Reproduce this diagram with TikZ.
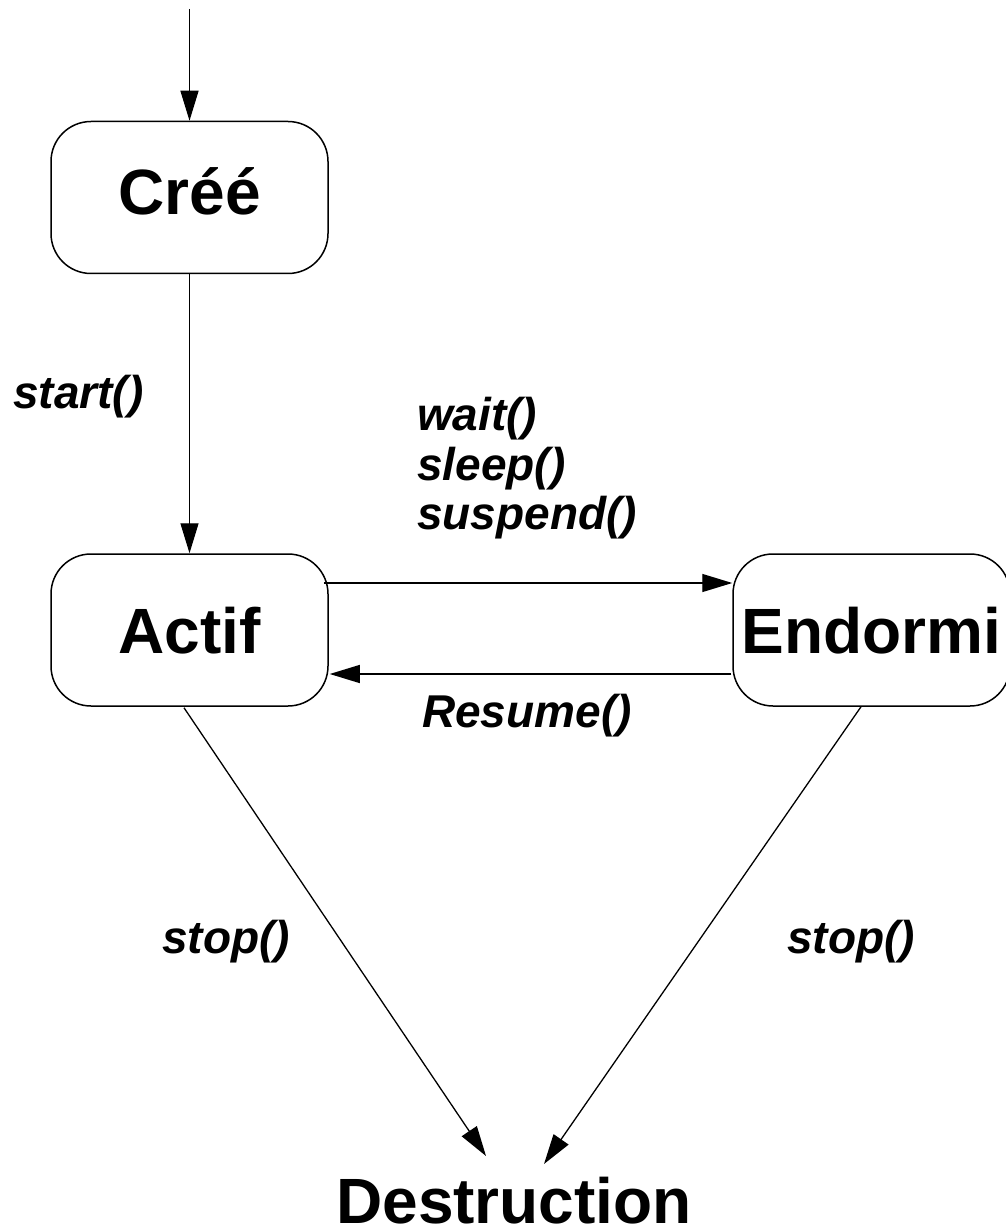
\documentclass[tikz,border=0pt]{standalone}
\usepackage{fontspec}
\setmainfont{Liberation Sans}
\usetikzlibrary{arrows.meta,calc}

\begin{document}
\begin{tikzpicture}[x=1pt,y=-1pt,
  state/.style={draw, line width=1.5pt, rounded corners=40pt,
    minimum width=277pt, minimum height=152pt, inner sep=0pt,
    font=\fontsize{64}{64}\selectfont\bfseries, text height=46pt, text depth=0pt},
  call/.style={inner sep=0pt, anchor=base west,
    font=\fontsize{46}{46}\selectfont\bfseries\itshape},
  trans/.style={line width=1.3pt, -{Triangle[length=30pt,width=18pt]}}]

  \useasboundingbox (0,0) rectangle (1005,1230);

  % states
  \node[state, text height=34pt] (cree)    at (189.5,197.5) {Créé};
  \node[state]                   (actif)   at (189.5,630)   {Actif};
  \node[state]                   (endormi) at (871.5,630)   {Endormi};
  \node[inner sep=0pt, anchor=base, font=\fontsize{64}{64}\selectfont\bfseries]
       (destr) at (514,1223) {Destruction};

  % free ends of connectors
  \coordinate (entry) at (189.5,9);
  \coordinate (dleft)  at (486,1156);
  \coordinate (dright) at (544,1164);

  % transitions
  \draw[trans] (entry) -- (cree.north);
  \draw[trans] (cree.south) -- (actif.north);
  \draw[trans] ($(actif.east)+(-5,-47)$) -- ($(endormi.west)+(0,-47)$);
  \draw[trans] ($(endormi.west)+(-1,44)$) -- ($(actif.east)+(1,44)$);
  \draw[trans] ($(actif.south)+(-5.5,1)$) -- (dleft);
  \draw[trans] ($(endormi.south)+(-10.5,0)$) -- (dright);

  % transition labels
  \node[call] (lstart)   at (13,408)  {start()};
  \node[call] (lwait)    at (417,430) {wait()};
  \node[call] (lsleep)   at (417,480) {sleep()};
  \node[call] (lsuspend) at (417,529) {suspend()};
  \node[call] (lresume)  at (422,727) {Resume()};
  \node[call] (lstopa)   at (162,953) {stop()};
  \node[call] (lstopb)   at (787,953) {stop()};
\end{tikzpicture}
\end{document}
